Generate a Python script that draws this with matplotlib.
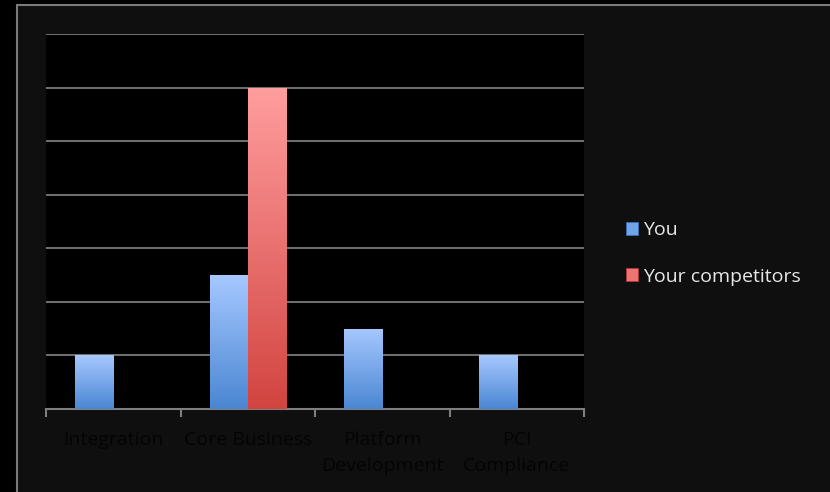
import numpy as np
import matplotlib
matplotlib.use("Agg")
import matplotlib.pyplot as plt
from matplotlib.patches import Rectangle
from matplotlib.colors import LinearSegmentedColormap

categories = ["Integration", "Core Business", "Platform\nDevelopment", "PCI\nCompliance"]
series_names = ["You", "Your competitors"]
you_values = [1.0, 2.5, 1.5, 1.0]
competitor_values = [0.0, 6.0, 0.0, 0.0]
y_max = 7

blue_top, blue_bottom = "#a6c8ff", "#4a86d2"
red_top, red_bottom = "#ff9e9e", "#d24440"

fig = plt.figure(figsize=(8.3, 4.92), dpi=100, facecolor="#000000")
# outer slide frame
frame = Rectangle((16.5 / 830, -0.05), 2.0, 1.05 - 5.0 / 492, transform=fig.transFigure,
                  facecolor="#0f0f0f", edgecolor="#7a7a7a", linewidth=1.5, zorder=-10)
fig.patches.append(frame)

ax = fig.add_axes([46 / 830, (492 - 409) / 492, (584 - 46) / 830, (409 - 34) / 492])
ax.set_facecolor("#000000")
ax.set_xlim(0, len(categories))
ax.set_ylim(0, y_max)

for spine in ["top", "right", "left"]:
    ax.spines[spine].set_visible(False)
ax.spines["bottom"].set_color("#7f7f7f")
ax.spines["bottom"].set_linewidth(1.5)

ax.set_yticks(np.arange(1, y_max + 1))
ax.yaxis.grid(True, color="#6e6e6e", linewidth=1.5)
ax.set_axisbelow(True)
ax.tick_params(axis="y", length=0, labelleft=False)

ax.set_xticks(np.arange(0, len(categories) + 1), minor=False)
ax.set_xticklabels([])
ax.tick_params(axis="x", which="major", direction="out", length=6, width=1.5, color="#7f7f7f")
ax.set_xticks(np.arange(len(categories)) + 0.5, minor=True)
ax.set_xticklabels(categories, minor=True, fontsize=14, color="#040404",
                   family=["Open Sans", "DejaVu Sans"], linespacing=1.58)
ax.tick_params(axis="x", which="minor", length=0, pad=16)
for lbl in ax.get_xticklabels(minor=True):
    lbl.set_verticalalignment("top")

width = 0.283
x = np.arange(len(categories)) + 0.5


def grad_cmap(top, bottom):
    return LinearSegmentedColormap.from_list("g", [bottom, top])


grad = np.linspace(0, 1, 256).reshape(-1, 1)
series = [(you_values, -width / 2, blue_top, blue_bottom), (competitor_values, width / 2, red_top, red_bottom)]
for vals, off, top, bottom in series:
    bars = ax.bar(x + off, vals, width=width, color="none", edgecolor="none", zorder=3)
    cmap = grad_cmap(top, bottom)
    for b in bars:
        h = b.get_height()
        if h <= 0:
            continue
        x0 = b.get_x()
        im = ax.imshow(grad, extent=(x0, x0 + b.get_width(), 0, h), origin="lower",
                       aspect="auto", cmap=cmap, zorder=3, interpolation="bilinear")
        im.set_clip_path(b)
ax.set_xlim(0, len(categories))
ax.set_ylim(0, y_max)

# legend
handles = [Rectangle((0, 0), 1, 1, facecolor=c, edgecolor=e, linewidth=0.6)
           for c, e in [("#6fa3ea", "#3d6fb5"), ("#ee7474", "#b03a3a")]]
leg = fig.legend(handles, series_names, loc="center left", bbox_to_anchor=(608 / 830, (492 - 253.5) / 492),
                 frameon=False, labelcolor="#e8e8e8", handlelength=0.62,
                 handleheight=0.62, handletextpad=0.3, labelspacing=1.45,
                 prop={"family": ["Open Sans", "DejaVu Sans"], "size": 14})

fig.savefig("out.png", dpi=100, facecolor=fig.get_facecolor())
